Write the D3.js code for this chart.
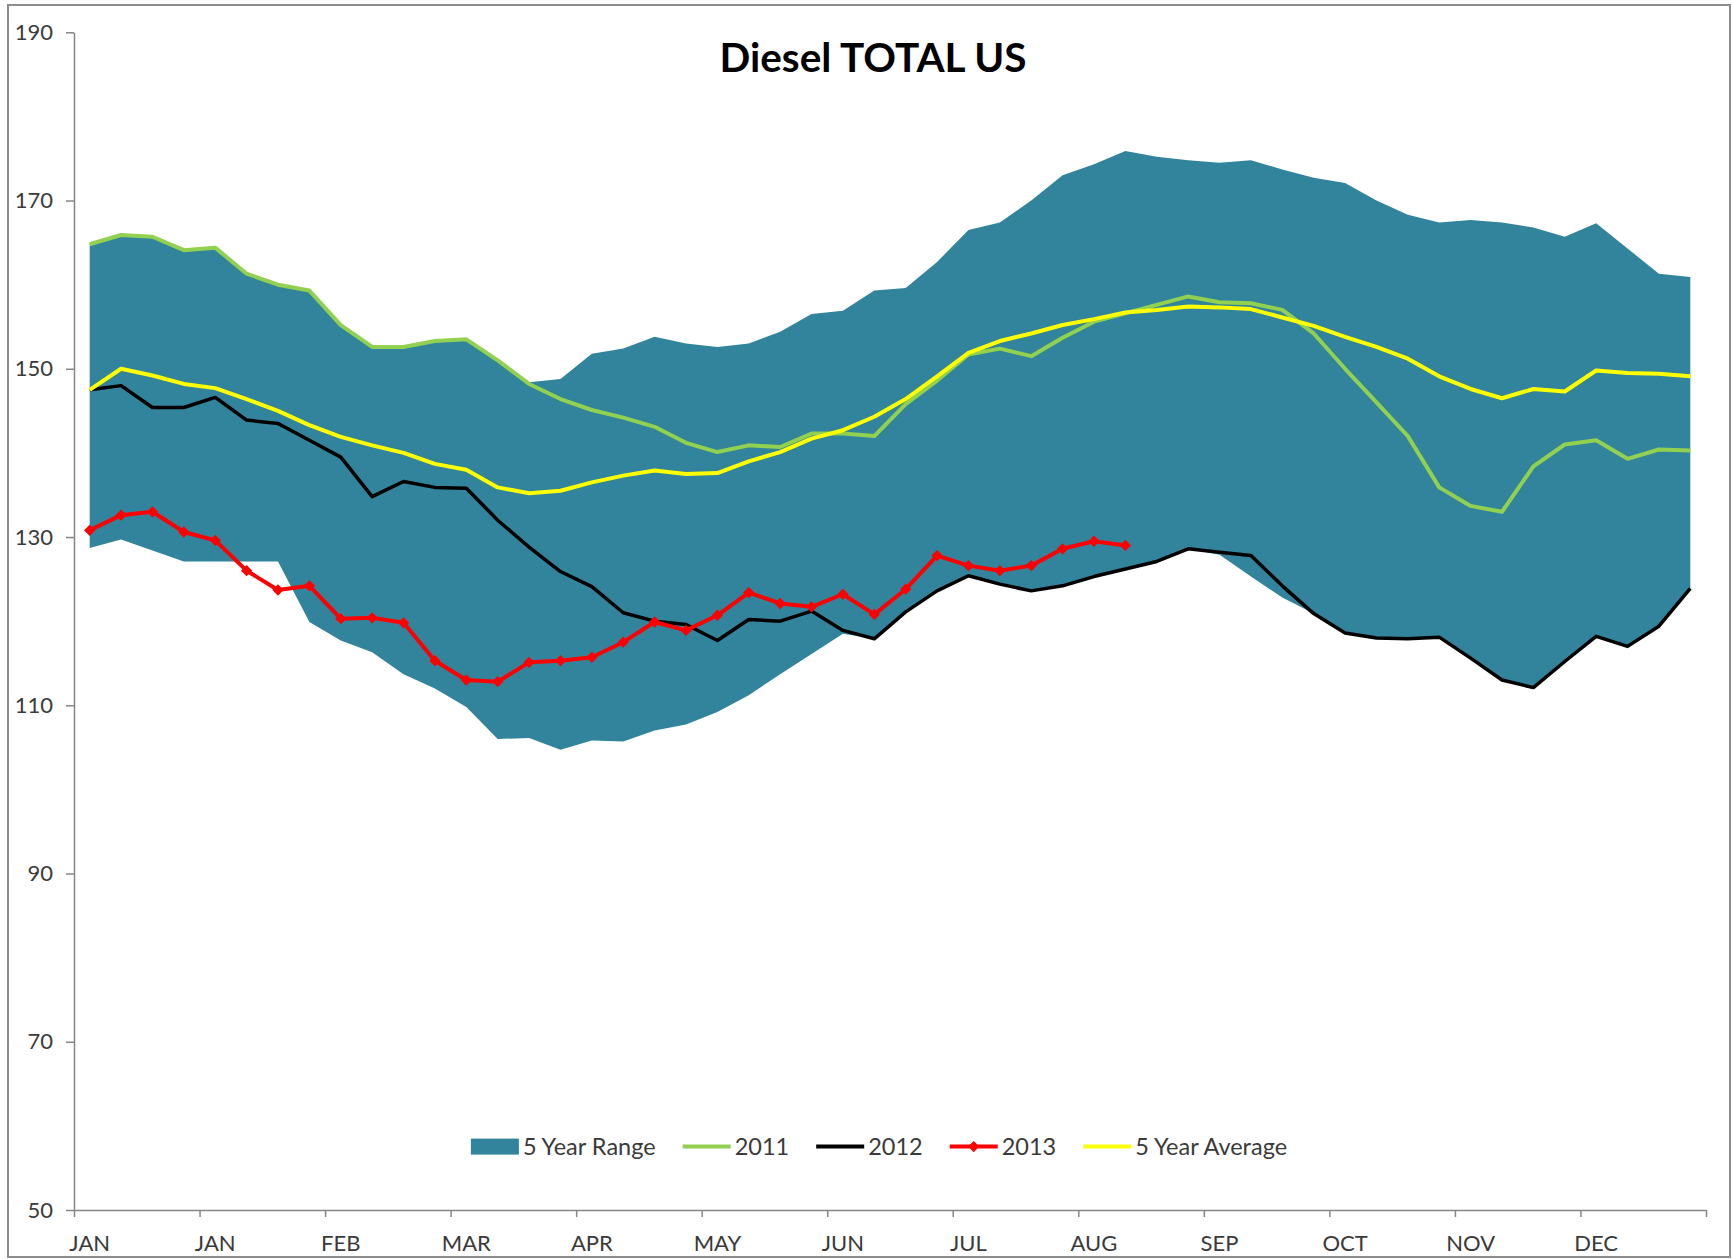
<!DOCTYPE html>
<html>
<head>
<meta charset="utf-8">
<script src="https://cdn.jsdelivr.net/npm/d3@7"></script>
<style>
  body { margin: 0; background: #fff; }
  svg { display: block; font-family: Lato, "Open Sans", sans-serif; }
  svg text { font-family: Lato, "Open Sans", sans-serif; }
</style>
</head>
<body>
<svg id="chart" width="1732" height="1259"></svg>
<script>
// ============================================================
// DATA - weekly values, 52 weeks
// ============================================================
const monthLabels = ["JAN","JAN","FEB","MAR","APR","MAY","JUN","JUL","AUG","SEP","OCT","NOV","DEC"];
const yTicks = [50, 70, 90, 110, 130, 150, 170, 190];

const rangeMax = [164.8,165.9,165.7,164.1,164.4,161.3,160.0,159.3,155.2,152.6,152.6,153.3,153.5,151.0,
  148.4,148.8,151.8,152.4,153.8,153.0,152.6,153.0,154.4,156.5,156.9,159.3,159.6,162.7,166.5,167.4,
  170.0,173.0,174.3,175.9,175.2,174.8,174.5,174.8,173.7,172.7,172.1,170.0,168.3,167.4,167.7,167.4,
  166.8,165.7,167.3,164.3,161.3,160.9];
const rangeMin = [128.7,129.7,128.4,127.1,127.1,127.1,127.1,119.9,117.7,116.3,113.7,112.0,109.8,106.0,
  106.1,104.7,105.8,105.7,107.0,107.7,109.2,111.2,113.7,116.1,118.5,117.9,121.1,123.6,125.4,124.4,
  123.6,124.1,125.3,126.2,127.1,128.6,127.9,125.3,122.8,120.9,118.6,118.0,117.9,118.1,115.6,113.0,
  112.1,115.2,118.2,117.0,119.4,123.9];
const y2011 = [164.8,165.9,165.7,164.1,164.4,161.3,160.0,159.3,155.2,152.6,152.6,153.3,153.5,151.0,
  148.2,146.4,145.1,144.2,143.1,141.2,140.1,140.9,140.7,142.3,142.3,142.0,145.8,148.6,151.7,152.4,
  151.5,153.7,155.6,156.6,157.6,158.6,157.9,157.8,157.0,154.2,150.0,146.0,142.0,135.9,133.7,133.0,
  138.4,141.0,141.5,139.3,140.4,140.3];
const y2012 = [147.5,148.0,145.4,145.4,146.6,143.9,143.5,141.5,139.5,134.8,136.6,135.9,135.8,132.0,
  128.8,125.9,124.1,121.0,120.0,119.6,117.7,120.2,120.0,121.2,118.9,117.9,121.1,123.6,125.4,124.4,
  123.6,124.2,125.3,126.2,127.1,128.6,128.2,127.8,124.2,120.9,118.6,118.0,117.9,118.1,115.6,113.0,
  112.1,115.2,118.2,117.0,119.4,123.9];
const y2013 = [130.8,132.6,133.0,130.6,129.6,126.0,123.7,124.2,120.3,120.4,119.8,115.3,113.0,112.8,
  115.1,115.3,115.7,117.5,119.9,118.9,120.7,123.4,122.1,121.7,123.2,120.8,123.8,127.8,126.6,126.0,
  126.6,128.6,129.5,129.0];
const avg5 = [147.5,150.0,149.2,148.2,147.7,146.4,145.0,143.3,141.9,140.9,140.0,138.7,138.0,135.9,
  135.2,135.5,136.5,137.3,137.9,137.5,137.6,139.0,140.1,141.7,142.7,144.3,146.4,149.1,151.9,153.3,
  154.2,155.2,155.9,156.7,157.0,157.4,157.3,157.1,156.1,155.1,153.8,152.6,151.2,149.1,147.6,146.5,
  147.6,147.3,149.8,149.5,149.4,149.1];

// ============================================================
// LAYOUT
// ============================================================
const svg = d3.select("#chart");
const plot = { left: 74, right: 1706, top: 32.3, bottom: 1210 };
const nWeeks = rangeMax.length;

const x = d3.scalePoint().domain(d3.range(nWeeks)).range([plot.left, plot.right]).padding(0.5);
const xEdge = d3.scaleLinear().domain([0, nWeeks]).range([plot.left, plot.right]);
const y = d3.scaleLinear().domain([50, 190]).range([plot.bottom, plot.top]);

const axisColor = "#868686", textColor = "#3a3a3a";
const fontFam = 'Lato, "Open Sans", sans-serif';

// chart area border
svg.append("rect")
  .attr("x", 8).attr("y", 5).attr("width", 1722).attr("height", 1252)
  .attr("fill", "none").attr("stroke", "#8c8c8c").attr("stroke-width", 2);

// title
svg.append("text")
  .attr("x", 873).attr("y", 71.5).attr("text-anchor", "middle")
  .style("font-family", fontFam)
  .style("font-size", "40.5px").style("font-weight", "700").style("fill", "#000")
  .text("Diesel TOTAL US");

// ============================================================
// SERIES
// ============================================================
const area = d3.area()
  .x((d, i) => x(i))
  .y0((d, i) => y(rangeMin[i]))
  .y1(d => y(d));

svg.append("path").datum(rangeMax)
  .attr("d", area).attr("fill", "#31849B");

const line = d3.line().x((d, i) => x(i)).y(d => y(d));

const series = [
  { data: y2011, color: "#92D050", width: 4 },
  { data: y2012, color: "#000000", width: 3.5 },
  { data: y2013, color: "#FF0000", width: 4 },
  { data: avg5,  color: "#FFFF00", width: 4 }
];

series.forEach(s => {
  svg.append("path").datum(s.data)
    .attr("d", line)
    .attr("fill", "none")
    .attr("stroke", s.color)
    .attr("stroke-width", s.width)
    .attr("stroke-linejoin", "round");
});

// 2013 diamond markers
const diamond = d3.symbol().type(d3.symbolSquare).size(64);
svg.append("g").selectAll("path").data(y2013).join("path")
  .attr("d", diamond)
  .attr("transform", (d, i) => `translate(${x(i)},${y(d)}) rotate(45)`)
  .attr("fill", "#FF0000");

// ============================================================
// AXES
// ============================================================
const yAxis = svg.append("g")
  .attr("transform", `translate(${plot.left},0)`)
  .call(d3.axisLeft(y).tickValues(yTicks).tickSize(8).tickPadding(13).tickSizeOuter(0));

const xAxis = svg.append("g")
  .attr("transform", `translate(0,${plot.bottom})`)
  .call(d3.axisBottom(xEdge).tickValues(d3.range(0, nWeeks + 1, 4)).tickSize(7).tickFormat("").tickSizeOuter(0));

[yAxis, xAxis].forEach(g => {
  g.attr("font-family", null);
  g.select(".domain").attr("stroke", axisColor).attr("stroke-width", 1.5);
  g.selectAll(".tick line").attr("stroke", axisColor).attr("stroke-width", 1.5);
});
yAxis.selectAll(".tick text")
  .style("font-family", fontFam)
  .style("font-size", "22px").style("fill", textColor);

// month labels centred on every fourth week
svg.append("g").selectAll("text").data(monthLabels).join("text")
  .attr("x", (d, i) => x(i * 4))
  .attr("y", 1251)
  .attr("text-anchor", "middle")
  .style("font-family", fontFam)
  .style("font-size", "22px").style("fill", textColor)
  .text(d => d);

// ============================================================
// LEGEND
// ============================================================
const legendItems = [
  { label: "5 Year Range", type: "box", color: "#31849B" },
  { label: "2011", type: "line", color: "#92D050" },
  { label: "2012", type: "line", color: "#000000" },
  { label: "2013", type: "marker", color: "#FF0000" },
  { label: "5 Year Average", type: "line", color: "#FFFF00" }
];

const legend = svg.append("g");
const legendY = 1146.6, symW = 48, textGap = 4, itemGap = 27;
let cursor = 0;
legendItems.forEach(item => {
  const g = legend.append("g").attr("transform", `translate(${cursor},0)`);
  if (item.type === "box") {
    g.append("rect").attr("x", 0).attr("y", legendY - 8).attr("width", symW).attr("height", 16)
      .attr("fill", item.color);
  } else {
    g.append("line").attr("x1", 0).attr("x2", symW).attr("y1", legendY).attr("y2", legendY)
      .attr("stroke", item.color).attr("stroke-width", 4);
    if (item.type === "marker") {
      g.append("path").attr("d", diamond)
        .attr("transform", `translate(${symW / 2},${legendY}) rotate(45)`)
        .attr("fill", item.color);
    }
  }
  const t = g.append("text")
    .attr("x", symW + textGap).attr("y", legendY).attr("dy", "0.35em")
    .style("font-family", fontFam)
    .style("font-size", "23.5px").style("fill", textColor)
    .text(item.label);
  cursor += symW + textGap + t.node().getComputedTextLength() + itemGap;
});
const legendWidth = cursor - itemGap;
legend.attr("transform", `translate(${879 - legendWidth / 2},0)`);
</script>
</body>
</html>
